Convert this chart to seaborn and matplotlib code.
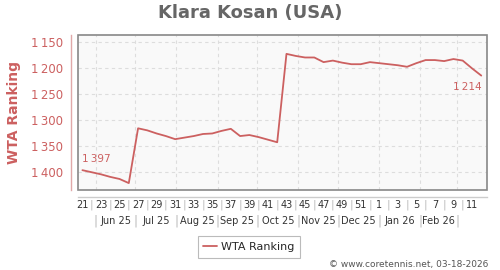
import matplotlib
matplotlib.use("Agg")
import matplotlib.pyplot as plt
import matplotlib.transforms as mtrans
from matplotlib.patches import Rectangle
import seaborn as sns
import pandas as pd

# ---- data ----
title = "Klara Kosan (USA)"
series_name = "WTA Ranking"
start_week_thursday = "2025-05-22"   # ISO week 21 of 2025
week_numbers = [21, 22, 23, 24, 25, 26, 27, 28, 29, 30, 31, 32, 33, 34, 35, 36,
                37, 38, 39, 40, 41, 42, 43, 44, 45, 46, 47, 48, 49, 50, 51, 52,
                1, 2, 3, 4, 5, 6, 7, 8, 9, 10, 11, 12]
ranking = [1397, 1401, 1405, 1410, 1414, 1422, 1316, 1320, 1326, 1331, 1337, 1334,
           1331, 1327, 1326, 1321, 1317, 1331, 1329, 1333, 1338, 1343, 1172, 1176,
           1179, 1179, 1188, 1185, 1189, 1192, 1192, 1188, 1190, 1192, 1194, 1197,
           1190, 1184, 1184, 1186, 1182, 1185, 1200, 1214]
week_tick_labels = ["21", "23", "25", "27", "29", "31", "33", "35", "37", "39", "41",
                    "43", "45", "47", "49", "51", "1", "3", "5", "7", "9", "11"]
month_labels = ["Jun 25", "Jul 25", "Aug 25", "Sep 25", "Oct 25", "Nov 25",
                "Dec 25", "Jan 26", "Feb 26"]
month_starts = ["2025-06-01", "2025-07-01", "2025-08-01", "2025-09-01", "2025-10-01",
                "2025-11-01", "2025-12-01", "2026-01-01", "2026-02-01", "2026-03-01"]
y_ticks = [1150, 1200, 1250, 1300, 1350, 1400]
first_label = "1\u2009397"
last_label = "1\u2009214"
credit = "\u00a9 www.coretennis.net, 03-18-2026"

dates = pd.date_range(start_week_thursday, periods=len(ranking), freq="7D")
df = pd.DataFrame({"date": dates, "rank": ranking})

RED = "#cc6060"
GRAY_TXT = "#333333"

sns.set_theme(style="white")
plt.rcParams["font.family"] = ["DejaVu Sans"]

fig = plt.figure(figsize=(5, 2.7), dpi=100)
ax = fig.add_axes([0.156, 0.296, 0.818, 0.574])
ax.set_facecolor("#f9f9f9")

sns.lineplot(data=df, x="date", y="rank", ax=ax, color=RED, linewidth=1.3,
             label=series_name, legend=False)

xmin = pd.Timestamp("2025-05-18 16:00")
xmax = pd.Timestamp("2026-03-23 08:00")
ax.set_xlim(xmin, xmax)
ax.set_ylim(1435.5, 1135.7)

# y axis
ax.set_yticks(y_ticks)
ax.set_yticklabels([f"{v // 1000}\u2009{v % 1000:03d}" for v in y_ticks])
ax.tick_params(axis="y", length=0, pad=6, labelsize=8.5, labelcolor=RED)
ax.set_ylabel(series_name, color=RED, fontsize=10, fontweight="bold")
ax.yaxis.set_label_coords((21 - 78) / 409, 0.5)

# x axis: month gridlines
ms = pd.to_datetime(month_starts)
ax.set_xticks(ms)
ax.set_xticklabels([])
ax.tick_params(axis="x", length=0)
ax.set_xlabel("")
ax.grid(True, color="#dddddd", linestyle=(0, (3, 3)), linewidth=0.8)

for s in ["top", "right"]:
    ax.spines[s].set_visible(False)
ax.spines["left"].set_position(("outward", 5))
ax.spines["left"].set_color("#e0a8a8")
ax.spines["left"].set_linewidth(1.0)
ax.spines["bottom"].set_position(("outward", 5))
ax.spines["bottom"].set_color("#cccccc")
ax.spines["bottom"].set_linewidth(1.0)

ax.add_patch(Rectangle((0, 0), 1, 1, transform=ax.transAxes, fill=False,
                       edgecolor="#888888", linewidth=1.2, clip_on=False, zorder=5))

# week tick labels at Thursdays of odd weeks
trans = mtrans.blended_transform_factory(ax.transData, fig.transFigure)
week_pos = dates[::2]
for d, lab in zip(week_pos, week_tick_labels):
    ax.text(d, 1 - 205 / 270, lab, transform=trans, ha="center", va="center",
            fontsize=7, color=GRAY_TXT)
for d in dates[1::2][:-1]:
    ax.text(d, 1 - 205 / 270, "|", transform=trans, ha="center", va="center",
            fontsize=8, color="#bbbbbb")

# month labels
for i, lab in enumerate(month_labels):
    mid = ms[i] + (ms[i + 1] - ms[i]) / 2
    ax.text(mid, 1 - 221 / 270, lab, transform=trans, ha="center", va="center",
            fontsize=7, color=GRAY_TXT)
for d in ms:
    ax.text(d, 1 - 221 / 270, "|", transform=trans, ha="center", va="center",
            fontsize=8.5, color="#bbbbbb")

# end labels
ax.annotate(first_label, (dates[0], ranking[0]), xytext=(0, 8), textcoords="offset points",
            ha="left", va="center", fontsize=7.5, color=RED)
ax.annotate(last_label, (dates[-1], ranking[-1]), xytext=(0, -8), textcoords="offset points",
            ha="right", va="center", fontsize=7.5, color=RED)

# title
fig.text(0.5, 1 - 13 / 270, title, ha="center", va="center", fontsize=13,
         fontweight="bold", color="#666666")

# legend
handles, labels = ax.get_legend_handles_labels()
leg = fig.legend(handles, labels, loc="center", bbox_to_anchor=(249 / 500, 1 - 247 / 270),
                 fontsize=8, frameon=True, fancybox=False, edgecolor="#aaaaaa",
                 handlelength=1.2, handletextpad=0.4, borderpad=0.5)
leg.get_frame().set_linewidth(0.8)

fig.text(488 / 500, 1 - 264 / 270, credit, ha="right", va="center", fontsize=6.5,
         color="#555555")

fig.savefig("out.png", dpi=100, facecolor="white")
